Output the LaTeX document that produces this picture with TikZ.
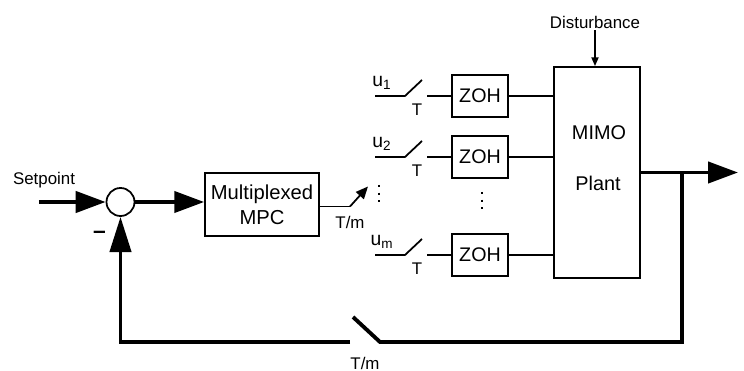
\documentclass[tikz,border=0pt]{standalone}
\usepackage{fontspec}
\setmainfont{Liberation Sans}
\usetikzlibrary{arrows.meta,positioning}

\tikzset{
  block/.style={draw, line width=1pt, minimum width=2.24cm, minimum height=1.26cm,
    align=center, font=\fontsize{11.5}{14}\selectfont},
  zohbox/.style={draw, line width=1pt, minimum width=1.12cm, minimum height=0.84cm,
    font=\fontsize{11.2}{13}\selectfont},
  lbl/.style={font=\fontsize{9.6}{11}\selectfont, inner sep=1pt},
  ulbl/.style={font=\fontsize{11}{12}\selectfont, inner sep=1pt},
  thinline/.style={line width=1pt},
  boldline/.style={line width=2.2pt},
  bigtip/.style={-{Triangle[length=17pt,width=12pt]}}
}

\begin{document}
\begin{tikzpicture}
    \useasboundingbox (0,0) rectangle (14.88,7.42);

    % Summing junction and setpoint
    \node[draw, circle, thinline, minimum size=0.56cm, inner sep=0pt] (sum) at (2.41,3.38) {};
    \coordinate (sp) at (0.78,3.38);
    \node[lbl] (setpt) at (0.88,3.82) {Setpoint};
    \draw[boldline, bigtip] (sp) -- (sum);
    \node[font=\fontsize{13}{13}\selectfont\bfseries] (minus) at (1.99,2.72) {--};

    % Multiplexed MPC
    \node[block] (mpc) at (5.24,3.33) {Multiplexed\\MPC};
    \draw[boldline, bigtip] (sum) -- (sum -| mpc.west);

    % Rotating switch T/m
    \coordinate (sw) at (7.0,3.29);
    \coordinate (swtip) at (7.36,3.69);
    \draw[thinline] (mpc.east |- sw) -- (sw);
    \draw[thinline, -{Triangle[length=7pt,width=6pt]}] (sw) -- (swtip);
    \node[lbl] (tm) at (7.0,2.98) {T/m};
    \draw[line width=1.3pt, dash pattern=on 1.3pt off 3pt] (7.58,3.72) -- (7.58,3.28);

    % MIMO plant
    \node[draw, thinline, minimum width=1.72cm, minimum height=4.22cm] (plant) at (11.94,3.97) {};
    \node[font=\fontsize{11.3}{13}\selectfont] (mimo) at (11.98,4.76) {MIMO};
    \node[font=\fontsize{11.3}{13}\selectfont] (plname) at (11.96,3.76) {Plant};

    % Disturbance
    \node[lbl] (dist) at (11.90,6.98) {Disturbance};
    \draw[thinline, -{Triangle[length=5pt,width=4pt]}] (dist.south) -- (dist.south |- plant.north);

    % Sampled channels with ZOH
    \foreach \y/\sub/\name in {5.50/1/a, 4.28/2/b, 2.32/m/c} {
      \coordinate (in\name) at (7.5,\y);
      \coordinate (pv\name) at (8.1,\y);
      \coordinate (bl\name) at (8.44,\y+0.32);
      \coordinate (out\name) at (8.54,\y);
      \node[zohbox] (zoh\name) at (9.6,\y) {ZOH};
      \node[ulbl] (u\name) at (7.64,\y+0.26) {u\textsubscript{\sub}};
      \node[lbl] (t\name) at (8.34,\y-0.28) {T};
      \draw[thinline] (in\name) -- (pv\name) -- (bl\name);
      \draw[thinline] (out\name) -- (zoh\name.west);
      \draw[thinline] (zoh\name.east) -- (zoh\name.east -| plant.west);
    }
    \draw[line width=1.3pt, dash pattern=on 1.3pt off 3pt] (9.64,3.58) -- (9.64,3.14);

    % Output and feedback path
    \coordinate (yout) at (14.76,3.97);
    \coordinate (br) at (13.64,3.97);
    \coordinate (fbr) at (13.64,0.58);
    \coordinate (fsw) at (7.60,0.58);
    \coordinate (fbl) at (7.06,1.08);
    \coordinate (fsl) at (7.0,0.58);
    \coordinate (fcorner) at (2.41,0.58);
    \draw[boldline, bigtip] (plant.east) -- (yout);
    \draw[boldline] (br) -- (fbr) -- (fsw) -- (fbl);
    \draw[boldline, -{Triangle[length=20pt,width=12pt]}] (fsl) -- (fcorner) -- (sum);
    \node[lbl] (tmfb) at (7.30,0.16) {T/m};

\end{tikzpicture}
\end{document}
